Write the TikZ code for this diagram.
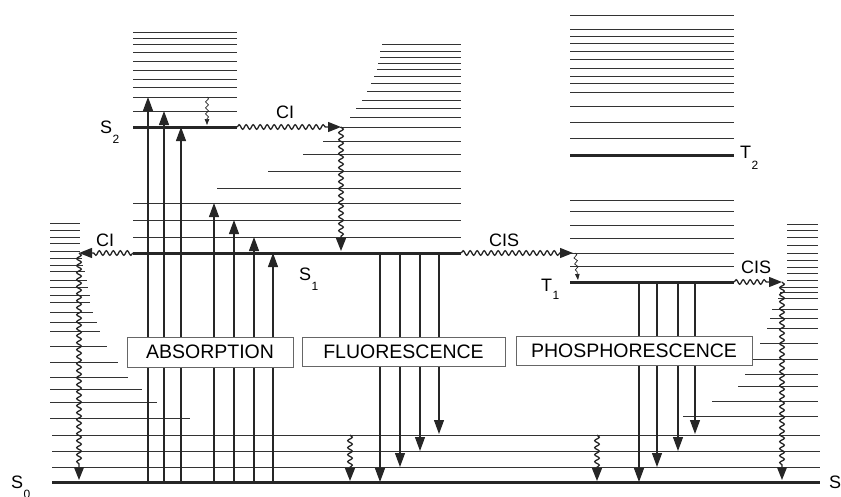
\documentclass[tikz,border=0pt]{standalone}
\usepackage{fontspec}
\setmainfont{Liberation Sans}
\usetikzlibrary{arrows.meta,decorations.pathmorphing,positioning}

\newcommand{\statename}[3]{#1\kern0.5pt\raisebox{#3}{\fontsize{12}{12}\selectfont #2}}

\tikzset{
  level/.style={line width=0.9pt, draw=black!80},
  thicklevel/.style={line width=3pt, draw=black!85},
  radiative/.style={line width=1.2pt, draw=black!85, -{Triangle[length=14pt,width=10pt]}},
  wavy/.style={line width=1.3pt, draw=black!85, decorate,
    decoration={snake, amplitude=2.3pt, segment length=7pt, post length=13pt},
    -{Triangle[length=13pt,width=10pt]}},
  tinywavy/.style={line width=0.7pt, draw=black!85, decorate,
    decoration={snake, amplitude=1.6pt, segment length=6pt, post length=6pt},
    -{Triangle[length=6pt,width=4.5pt]}},
  procbox/.style={draw=black!60, line width=0.8pt, fill=white, inner sep=0pt,
    font=\fontsize{19.5}{20}\selectfont},
  statelbl/.style={anchor=base west, inner sep=0pt, font=\fontsize{18}{18}\selectfont},
  proclbl/.style={anchor=base west, inner sep=0pt, font=\fontsize{18}{18}\selectfont}
}

\begin{document}
\begin{tikzpicture}[x=1pt, y=-1pt]
\useasboundingbox (0,0) rectangle (841,496);
% S0 levels
\coordinate (g) at (0,482);
\foreach \y in {435,451,467} \draw[level] (52,\y) -- (820,\y);
\foreach \y/\e in {223/80, 230/80, 237/80, 243/80, 251/80, 258/82, 265/83, 271/85,
  280/87, 287/88, 295/90, 302/90, 312/93, 322/97, 331/100, 346/107, 362/118,
  377/128, 389/142, 402/157, 418/190}
  \draw[level] (50,\y) -- (\e,\y);
\foreach \y/\s in {224/787, 230/787, 237/787, 245/787, 253/787, 260/787, 267/787,
  273/787, 280/787, 287/780, 292/780, 298/778, 309/772, 318/770, 328/767,
  343/760, 359/753, 374/745, 386/738, 401/712, 416/683}
  \draw[level] (\s,\y) -- (818,\y);
\draw[thicklevel] (52,482) -- (820,482);
% S1 levels
\foreach \y/\s in {44/382, 51/380, 57/380, 63/378, 69/377, 76/374, 83/371, 91/367,
  100/362, 108/356, 117/350, 127/340, 141/323, 154/303, 171/268, 188/217,
  203/133, 220/133, 237/133}
  \draw[level] (\s,\y) -- (461,\y);
\draw[thicklevel] (133,253) -- (461,253);
% S2 levels
\foreach \y in {32,38,44,52,61,70,79,87,97,111} \draw[level] (133,\y) -- (237,\y);
\draw[thicklevel] (133,127) -- (237,127);
% T1, T2 levels
\foreach \y in {15,29,36,43,51,59,68,76,83,92,106,122,138,200,211,225,238,253,266}
  \draw[level] (570,\y) -- (734,\y);
\draw[thicklevel] (570,155) -- (734,155);
\draw[thicklevel] (570,282) -- (734,282);
% absorption
\foreach \x/\y in {148/97, 164/111, 181/127, 214/203, 234/220, 254/237, 273/253}
  \draw[radiative] (\x,482) -- (\x,\y);
% fluorescence
\foreach \x/\y in {380/482, 400/467, 420/451, 439/434}
  \draw[radiative] (\x,253) -- (\x,\y);
% phosphorescence
\foreach \x/\y in {639/482, 657/467, 678/451, 695/434}
  \draw[radiative] (\x,282) -- (\x,\y);
% radiationless steps
\coordinate (s2r) at (237,127);
\coordinate (ci1) at (341,127);
\coordinate (s1l) at (133,253);
\coordinate (ci2) at (79,253);
\coordinate (s1r) at (461,253);
\coordinate (isc1) at (573,253);
\coordinate (t1r) at (734,282);
\coordinate (isc2) at (782,282);
\draw[wavy] (s2r) -- (ci1);
\draw[wavy] (ci1) -- ([yshift=2pt]ci1 |- s1r);
\draw[wavy] (s1l) -- (ci2);
\draw[wavy] (ci2) -- ([yshift=2pt]ci2 |- g);
\draw[wavy] (s1r) -- (isc1);
\draw[wavy] (t1r) -- (isc2);
\draw[wavy] (isc2) -- ([yshift=2pt]isc2 |- g);
\draw[tinywavy] (207,97) -- (207,125);
\draw[tinywavy] ([xshift=2pt]isc1) -- (578,280);
\draw[wavy] (350,435) -- (350,481);
\draw[wavy] (597,435) -- (597,481);
% boxes
\node[procbox, minimum width=166pt, minimum height=30pt] (absbox) at (210,352) {ABSORPTION};
\node[procbox, minimum width=203pt, minimum height=29pt] (flubox) at (403.5,351.5) {FLUORESCENCE};
\node[procbox, minimum width=236pt, minimum height=29pt] (phobox) at (634,350.5) {PHOSPHORESCENCE};
% labels
\node[statelbl] (s2lab) at (100,133) {\statename{S}{2}{-10pt}};
\node[statelbl] (s1lab) at (299,280) {\statename{S}{1}{-10pt}};
\node[statelbl] (t2lab) at (740,158) {\statename{T}{2}{-11pt}};
\node[statelbl] (t1lab) at (541,291) {\statename{T}{1}{-8pt}};
\node[statelbl] (s0lab) at (11,488) {\statename{S}{0}{-10pt}};
\node[statelbl] (s0rlab) at (829,488) {\statename{S}{0}{-10pt}};
\node[proclbl] (ci1lab) at (276,118) {CI};
\node[proclbl] (ci2lab) at (96,246) {CI};
\node[proclbl] (isc1lab) at (489,246) {CIS};
\node[proclbl] (isc2lab) at (741,273) {CIS};
\end{tikzpicture}
\end{document}
